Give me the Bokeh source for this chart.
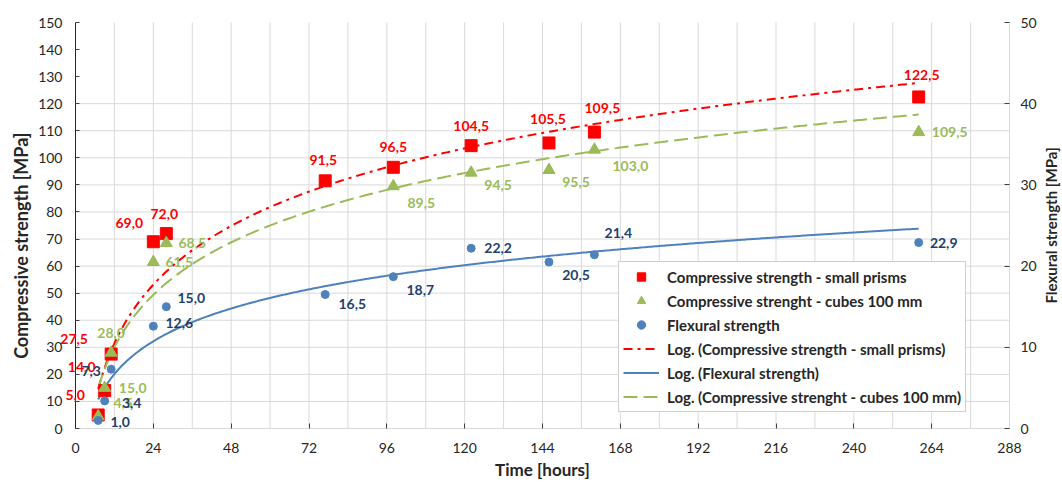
import numpy as np
from bokeh.plotting import figure
from bokeh.models import (Range1d, LinearAxis, FixedTicker, ColumnDataSource,
                          Legend, LegendItem, LabelSet, Label)
from bokeh.core.properties import value
from bokeh.embed import file_html
from bokeh.resources import INLINE

# ---------------- data ----------------
hours = [7, 9, 11, 24, 28, 77, 98, 122, 146, 160, 260]
prisms = [5.0, 14.0, 27.5, 69.0, 72.0, 91.5, 96.5, 104.5, 105.5, 109.5, 122.5]
cube_hours = [7, 9, 11, 24, 28, 98, 122, 146, 160, 260]
cubes = [4.5, 15.0, 28.0, 61.5, 68.5, 89.5, 94.5, 95.5, 103.0, 109.5]
flexural = [1.0, 3.4, 7.3, 12.6, 15.0, 16.5, 18.7, 22.2, 20.5, 21.4, 22.9]

x_ticks = list(range(0, 289, 24))
x_minor = list(range(12, 289, 12))
y_ticks = list(range(0, 151, 10))
y_grid = list(range(10, 121, 10))
y2_ticks = list(range(0, 51, 10))
X_MIN, X_MAX = 0, 288
Y_MIN, Y_MAX = 0, 150
Y2_MAX = 50

# label offsets (screen px, +dy = downwards), style only
prism_dx = [-23, -23, -37, -24, -2, -2, 0, 0, -1, 8, 3]
prism_dy = [-20, -24, -15, -19, -20, -21, -20, -20, -24, -24, -22]
cube_dx = [25, 28, 0, 26, 26, 28, 27, 27, 36, 31]
cube_dy = [-13, 0, -20, 0, 0, 17, 12, 12, 16, 0]
flex_dx = [22, 27, -20, 26, 25, 27, 27, 27, 27, 24, 25]
flex_dy = [2, 2, 2, -3, -9, 9, 13, 0, 13, -22, 0]

RED = "#FF0000"
GREEN = "#9BBB59"
BLUE = "#4F81BD"
NAVY = "#1F3F6E"
GRID = "#D9D9D9"
TXT = "#262626"
FONT = "Lato"

# layout: plot area 934 x 406 px; the frame covers the whole canvas so no text is clipped
W, H = 1062, 482
PX_PER_H = 934 / 288
PX_PER_U = 406 / 150
LEFT_PAD, RIGHT_PAD, TOP_PAD, BOTTOM_PAD = 75, 53, 22, 54


def fmt(v):
    return f"{v:.1f}".replace(".", ",")


def log_fit(xs, ys):
    a, b = np.polyfit(np.log(np.array(xs, float)), np.array(ys, float), 1)
    xx = np.linspace(min(xs), max(xs), 400)
    return xx, a * np.log(xx) + b


p = figure(width=W, height=H,
           x_range=Range1d(X_MIN - LEFT_PAD / PX_PER_H, X_MAX + RIGHT_PAD / PX_PER_H),
           y_range=Range1d(Y_MIN - BOTTOM_PAD / PX_PER_U, Y_MAX + TOP_PAD / PX_PER_U),
           output_backend="svg", toolbar_location=None,
           min_border_left=0, min_border_right=0, min_border_top=0, min_border_bottom=0)
p.outline_line_color = None
p.background_fill_color = "white"
ratio = Y2_MAX / Y_MAX
p.extra_y_ranges = {"flex": Range1d((Y_MIN - BOTTOM_PAD / PX_PER_U) * ratio,
                                    (Y_MAX + TOP_PAD / PX_PER_U) * ratio)}

# grid (limited to the plot area)
p.xgrid.visible = False
p.ygrid.visible = False
p.segment(x0=x_minor, y0=[Y_MIN] * len(x_minor), x1=x_minor, y1=[Y_MAX] * len(x_minor),
          line_color=GRID, line_width=1)
p.segment(x0=[X_MIN] * len(y_grid), y0=y_grid, x1=[X_MAX] * len(y_grid), y1=y_grid,
          line_color=GRID, line_width=1)

# axes, all fixed inside the frame
xa = p.xaxis[0]
xa.fixed_location = Y_MIN
xa.ticker = FixedTicker(ticks=x_ticks)
xa.bounds = (X_MIN, X_MAX)
xa.axis_line_color = GRID
xa.major_tick_line_color = "#404040"
xa.major_tick_in = 5
xa.major_tick_out = 0
xa.minor_tick_line_color = None
xa.major_label_standoff = 14

ya = p.yaxis[0]
ya.fixed_location = X_MIN
ya.ticker = FixedTicker(ticks=y_ticks)
ya.bounds = (Y_MIN, Y_MAX)
ya.axis_line_color = TXT
ya.major_tick_line_color = "#404040"
ya.major_tick_in = 4
ya.major_tick_out = 0
ya.minor_tick_line_color = None
ya.major_label_standoff = 13

ya2 = LinearAxis(y_range_name="flex", ticker=FixedTicker(ticks=y2_ticks), fixed_location=X_MAX)
ya2.bounds = (0, Y2_MAX)
ya2.axis_line_color = GRID
ya2.major_tick_line_color = "#404040"
ya2.major_tick_in = 5
ya2.major_tick_out = 0
ya2.minor_tick_line_color = None
ya2.major_label_standoff = 11
p.add_layout(ya2, "right")

for ax in (xa, ya, ya2):
    ax.major_label_text_font = FONT
    ax.major_label_text_font_size = "14px"
    ax.major_label_text_color = TXT

title_style = dict(text_font=FONT, text_font_style="bold", text_color=TXT,
                   text_align="center", text_baseline="middle")
p.add_layout(Label(x=(X_MIN + X_MAX) / 2, y=Y_MIN, y_offset=-41, text="Time [hours]",
                   text_font_size="17px", **title_style))
p.add_layout(Label(x=X_MIN, y=Y_MAX / 2, x_offset=-55, y_offset=-18,
                   text="Compressive strength  [MPa]", angle=90, angle_units="deg",
                   text_font_size="18px", **title_style))
p.add_layout(Label(x=X_MAX, y=Y_MAX / 2, x_offset=41, text="Flexural strength [MPa]",
                   angle=90, angle_units="deg", text_font_size="15px", **title_style))

# trendlines
tx, ty = log_fit(hours, prisms)
r_tr_red = p.line(tx, ty, line_color=RED, line_width=2, line_dash="9 5 3 5")
tx, ty = log_fit(hours, flexural)
r_tr_blue = p.line(tx, ty, line_color=BLUE, line_width=2, y_range_name="flex")
tx, ty = log_fit(cube_hours, cubes)
r_tr_green = p.line(tx, ty, line_color=GREEN, line_width=2, line_dash="14 6")

# markers
src_p = ColumnDataSource(dict(x=hours, y=prisms, t=[fmt(v) for v in prisms],
                              dx=prism_dx, dy=[-d for d in prism_dy]))
src_c = ColumnDataSource(dict(x=cube_hours, y=cubes, t=[fmt(v) for v in cubes],
                              dx=cube_dx, dy=[-d for d in cube_dy]))
src_f = ColumnDataSource(dict(x=hours, y=flexural, t=[fmt(v) for v in flexural],
                              dx=flex_dx, dy=[-d for d in flex_dy]))

r_sq = p.scatter("x", "y", source=src_p, marker="square", size=12, fill_color=RED, line_color=RED)
r_tri = p.scatter("x", "y", source=src_c, marker="triangle", size=12, fill_color=GREEN, line_color=GREEN)
r_circ = p.scatter("x", "y", source=src_f, marker="circle", size=8, fill_color=BLUE, line_color=BLUE,
                   y_range_name="flex")

# data labels
common = dict(x="x", y="y", text="t", x_offset="dx", y_offset="dy",
              text_font=value(FONT), text_font_size="14px", text_font_style="bold",
              text_align="center", text_baseline="middle")
p.add_layout(LabelSet(source=src_p, text_color=RED, **common))
p.add_layout(LabelSet(source=src_c, text_color=GREEN, **common))
p.add_layout(LabelSet(source=src_f, text_color=NAVY, y_range_name="flex", **common))

legend = Legend(items=[
    LegendItem(label="Compressive strength - small prisms", renderers=[r_sq]),
    LegendItem(label="Compressive strenght - cubes 100 mm", renderers=[r_tri]),
    LegendItem(label="Flexural strength", renderers=[r_circ]),
    LegendItem(label="Log. (Compressive strength - small prisms)", renderers=[r_tr_red]),
    LegendItem(label="Log. (Flexural strength)", renderers=[r_tr_blue]),
    LegendItem(label="Log. (Compressive strenght - cubes 100 mm)", renderers=[r_tr_green]),
], location=(618, 70))
legend.label_text_font = FONT
legend.label_text_font_size = "15px"
legend.label_text_font_style = "bold"
legend.label_text_color = TXT
legend.glyph_width = 36
legend.glyph_height = 21
legend.label_height = 21
legend.spacing = 3
legend.padding = 4
legend.margin = 0
legend.label_standoff = 8
legend.border_line_color = "#A0A0A0"
legend.border_line_width = 1
legend.background_fill_color = "white"
legend.background_fill_alpha = 1.0
p.add_layout(legend)

open("out.html", "w").write(file_html(p, INLINE))
